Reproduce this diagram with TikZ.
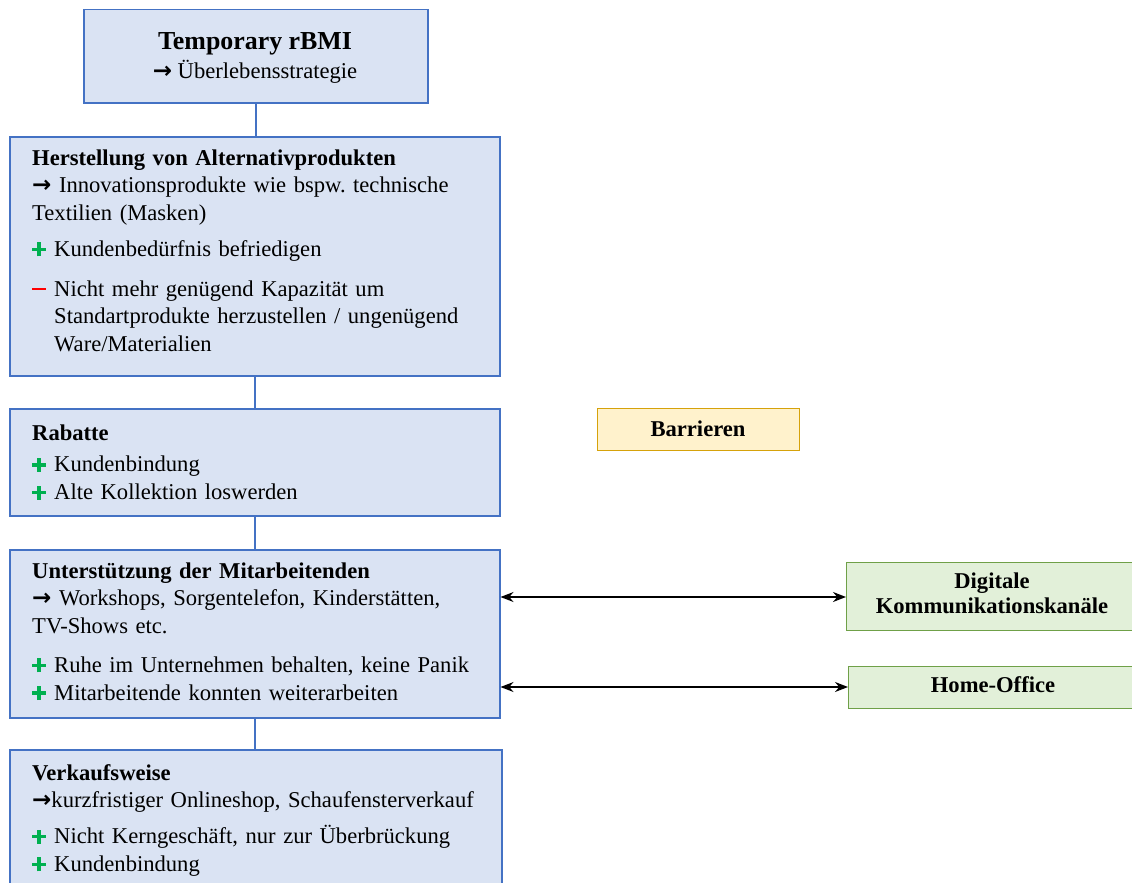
\documentclass[tikz,border=0pt]{standalone}
\usepackage{fontspec}
\setmainfont{Liberation Serif}
\newfontfamily\dejavu{DejaVu Sans}
\usetikzlibrary{arrows.meta}
\definecolor{bluefill}{HTML}{DAE3F3}
\definecolor{blueline}{HTML}{4472C4}
\definecolor{yelfill}{HTML}{FFF2CC}
\definecolor{yelline}{HTML}{D6A20A}
\definecolor{grnfill}{HTML}{E2F0D9}
\definecolor{grnline}{HTML}{6FA048}
\definecolor{plusgreen}{HTML}{00B050}
\newcommand\pl{\makebox[22pt][l]{\textcolor{plusgreen}{\rlap{\rule[5.2pt]{14pt}{3.6pt}}\hspace{5.2pt}\rule{3.6pt}{14pt}}}}
\newcommand\mi{\makebox[22pt][l]{\textcolor{red}{\rule[6pt]{14pt}{1.6pt}}}}
\newcommand\ar{{\fontsize{23}{23}\dejavu\bfseries →}}
\newcommand\st{\rule{0pt}{20pt}}
\tikzset{
  bluebox/.style={draw=blueline, fill=bluefill, line width=1.5pt, rectangle, inner sep=0pt, anchor=north west},
  yelbox/.style={draw=yelline, fill=yelfill, line width=1.3pt, rectangle, inner sep=0pt, anchor=north west},
  grnbox/.style={draw=grnline, fill=grnfill, line width=1.3pt, rectangle, inner sep=0pt, anchor=north west},
  txt/.style={inner sep=0pt, anchor=north west, text width=470pt, align=left, font=\fontsize{22.6}{27.7}\selectfont\frenchspacing},
  ctxt/.style={inner sep=0pt, anchor=base, align=center, font=\fontsize{22.6}{25}\selectfont\bfseries},
  link/.style={draw=blueline, line width=1.5pt},
  biarrow/.style={draw=black, line width=1.4pt, {Stealth[length=13pt,width=10pt]}-{Stealth[length=13pt,width=10pt]}}
}
\begin{document}
\begin{tikzpicture}[x=1pt,y=-1pt]
\clip (0,0) rectangle (1132,883);
\fill[white] (0,0) rectangle (1132,883);
% boxes
\node[bluebox, minimum width=344pt, minimum height=93pt] (b1) at (83,9) {};
\node[bluebox, minimum width=490pt, minimum height=239pt] (b2) at (9,136) {};
\node[bluebox, minimum width=490pt, minimum height=107pt] (b3) at (9,408) {};
\node[bluebox, minimum width=490pt, minimum height=168pt] (b4) at (9,549) {};
\node[bluebox, minimum width=492pt, minimum height=150pt] (b5) at (9,749) {};
\node[yelbox, minimum width=202pt, minimum height=42pt] (bar) at (597,408) {};
\node[grnbox, minimum width=292pt, minimum height=68pt] (dig) at (846,562) {};
\node[grnbox, minimum width=290pt, minimum height=42pt] (ho) at (848,666) {};
% connectors
\draw[link] (b1.south) -- (b1.south |- b2.north);
\draw[link] (b2.south) -- (b3.north);
\draw[link] (b3.south) -- (b4.north);
\draw[link] (b4.south) -- (b4.south |- b5.north);
\coordinate (a1l) at (b4.east |- 0,597);
\coordinate (a1r) at (dig.west |- 0,597);
\coordinate (a2l) at (b4.east |- 0,687);
\coordinate (a2r) at (ho.west |- 0,687);
\draw[biarrow] (a1l) -- (a1r);
\draw[biarrow] (a2l) -- (a2r);
% texts
\node[inner sep=0pt, anchor=base, font=\fontsize{25.9}{28}\selectfont\bfseries] (t1a) at (255,50) {Temporary rBMI};
\node[inner sep=0pt, anchor=base, font=\fontsize{22.6}{25}\selectfont] (t1b) at (255,78) {\ar\ Überlebensstrategie};
\node[txt] (t2) at (32,145) {\st\textbf{Herstellung von Alternativprodukten}\\
\ar\ Innovationsprodukte wie bspw. technische\\
Textilien (Masken)\\[8pt]
\pl Kundenbedürfnis befriedigen\\[12pt]
\mi\parbox[t]{440pt}{Nicht mehr genügend Kapazität um\\Standartprodukte herzustellen / ungenügend\\Ware/Materialien}};
\node[txt] (t3) at (32,420) {\st\textbf{Rabatte}\\[4pt]
\pl Kundenbindung\\
\pl Alte Kollektion loswerden};
\node[txt] (t4) at (32,558) {\st\textbf{Unterstützung der Mitarbeitenden}\\
\ar\ Workshops, Sorgentelefon, Kinderstätten,\\
TV-Shows etc.\\[11pt]
\pl Ruhe im Unternehmen behalten, keine Panik\\
\pl Mitarbeitende konnten weiterarbeiten};
\node[txt] (t5) at (32,760) {\st\textbf{Verkaufsweise}\\
\ar kurzfristiger Onlineshop, Schaufensterverkauf\\[8pt]
\pl Nicht Kerngeschäft, nur zur Überbrückung\\
\pl Kundenbindung};
\node[ctxt] (tbar) at (698,436) {Barrieren};
\node[ctxt] (tdig1) at (992,588) {Digitale};
\node[ctxt] (tdig2) at (992,613) {Kommunikationskanäle};
\node[ctxt] (tho) at (993,692) {Home-Office};
\end{tikzpicture}
\end{document}
